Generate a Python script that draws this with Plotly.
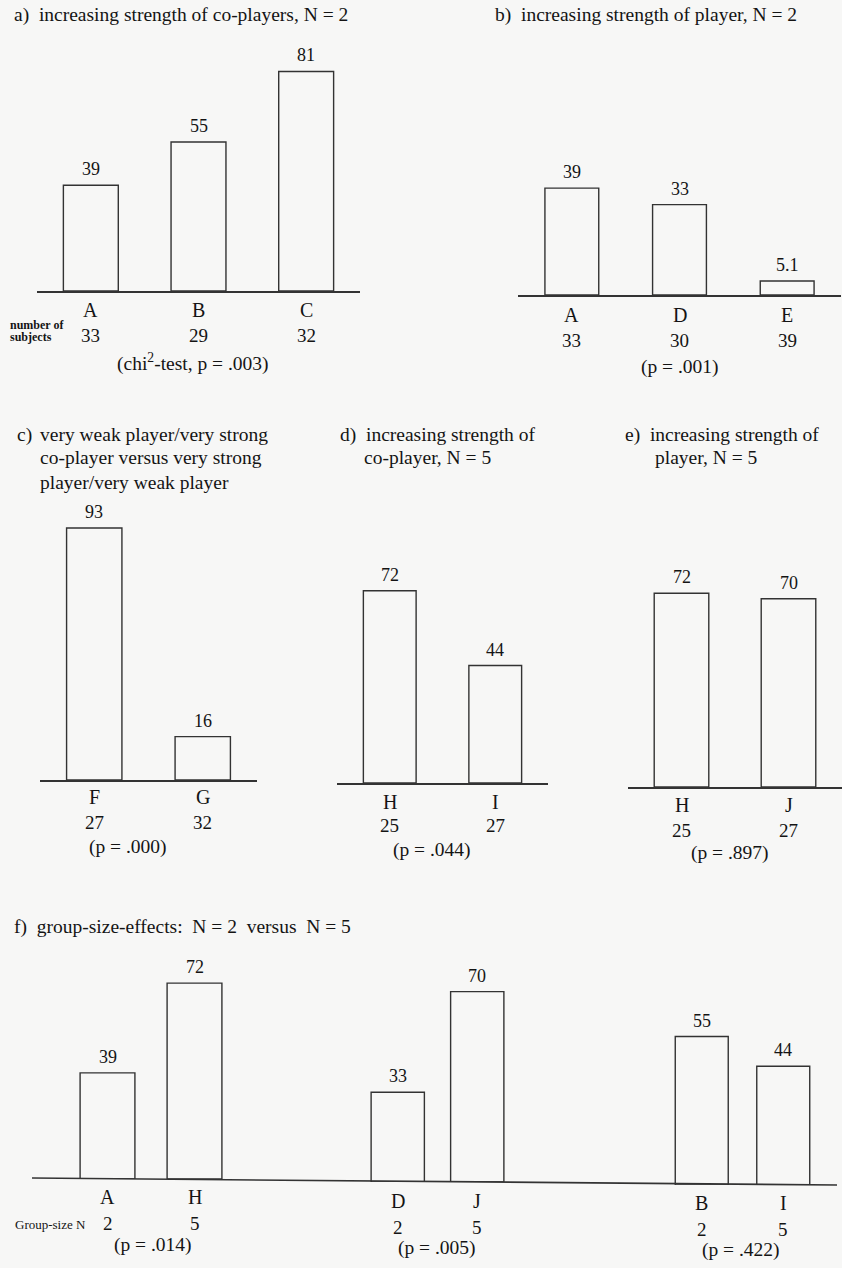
import plotly.graph_objects as go

W, H = 842, 1268

# ---------------- data ----------------
a_cats = ["A", "B", "C"]
a_vals = [39, 55, 81]
a_n = [33, 29, 32]

b_cats = ["A", "D", "E"]
b_vals = [39, 33, 5.1]
b_n = [33, 30, 39]

c_cats = ["F", "G"]
c_vals = [93, 16]
c_n = [27, 32]

d_cats = ["H", "I"]
d_vals = [72, 44]
d_n = [25, 27]

e_cats = ["H", "J"]
e_vals = [72, 70]
e_n = [25, 27]

f1_cats = ["A", "H"]
f1_vals = [39, 72]
f2_cats = ["D", "J"]
f2_vals = [33, 70]
f3_cats = ["B", "I"]
f3_vals = [55, 44]
f_groupsize = [2, 5]

p_labels = ["(chi<sup>2</sup>-test, p = .003)", "(p = .001)", "(p = .000)",
            "(p = .044)", "(p = .897)", "(p = .014)", "(p = .005)", "(p = .422)"]

# ---------------- style ----------------
FONT = "Liberation Serif, Times New Roman, serif"
TXT = "#141414"
LINE = "#333333"
BG = "#f7f7f6"


def px(x):
    return x / W


def py(y):
    return 1 - y / H


# panel geometry (pixels): axis line x0..x1, baseline, px per unit, bar width,
# y of letter row, y of count row, whether to draw axis line
panels = [
    dict(cats=a_cats, vals=a_vals, n=a_n, x0=37, x1=360, base=291, s=2.71, bw=0.51, ly=310, ny=335, line=True),
    dict(cats=b_cats, vals=b_vals, n=b_n, x0=518, x1=841, base=295, s=2.74, bw=0.50, ly=315, ny=340, line=True),
    dict(cats=c_cats, vals=c_vals, n=c_n, x0=40, x1=257, base=780, s=2.71, bw=0.51, ly=797, ny=822, line=True),
    dict(cats=d_cats, vals=d_vals, n=d_n, x0=337, x1=548, base=783, s=2.67, bw=0.50, ly=802, ny=826, line=True),
    dict(cats=e_cats, vals=e_vals, n=e_n, x0=628, x1=842, base=787, s=2.69, bw=0.51, ly=805, ny=830, line=True),
    dict(cats=f1_cats, vals=f1_vals, n=f_groupsize, x0=64, x1=238, base=1179, s=2.72, bw=0.63, ly=1197, ny=1223, line=False),
    dict(cats=f2_cats, vals=f2_vals, n=f_groupsize, x0=358, x1=517, base=1182, s=2.72, bw=0.67, ly=1201, ny=1227, line=False),
    dict(cats=f3_cats, vals=f3_vals, n=f_groupsize, x0=661, x1=824, base=1185, s=2.70, bw=0.65, ly=1203, ny=1229, line=False),
]

p_pos = [(193, 362), (680, 367), (128, 847), (432, 850), (730, 853),
         (153, 1245), (437, 1248), (741, 1250)]

fig = go.Figure()
annotations = []
layout_axes = {}


def fmt(v):
    return ("%g" % v)


for i, p in enumerate(panels):
    k = "" if i == 0 else str(i + 1)
    fig.add_trace(go.Bar(
        x=p["cats"], y=p["vals"], width=p["bw"],
        marker=dict(color="rgba(0,0,0,0)", line=dict(color=LINE, width=1.4)),
        xaxis="x" + k, yaxis="y" + k, showlegend=False, hoverinfo="skip"))
    n = len(p["cats"])
    layout_axes["xaxis" + k] = dict(
        domain=[px(p["x0"]), px(p["x1"])], range=[-0.5, n - 0.5], type="category",
        showline=p["line"], linecolor=LINE, linewidth=1.6, ticks="", showticklabels=False,
        showgrid=False, zeroline=False, anchor="y" + k, fixedrange=True)
    layout_axes["yaxis" + k] = dict(
        domain=[py(p["base"]), py(p["base"] - 100 * p["s"])], range=[0, 100],
        visible=False, anchor="x" + k, fixedrange=True)
    for c, v, cnt in zip(p["cats"], p["vals"], p["n"]):
        annotations.append(dict(x=c, y=v, xref="x" + k, yref="y" + k, text=fmt(v),
                                showarrow=False, yanchor="bottom", yshift=4,
                                font=dict(size=18, color=TXT, family=FONT)))
        annotations.append(dict(x=c, y=py(p["ly"]), xref="x" + k, yref="paper", text=c,
                                showarrow=False, yanchor="middle",
                                font=dict(size=20, color=TXT, family=FONT)))
        annotations.append(dict(x=c, y=py(p["ny"]), xref="x" + k, yref="paper", text=str(cnt),
                                showarrow=False, yanchor="middle",
                                font=dict(size=19, color=TXT, family=FONT)))

for lab, (x, y) in zip(p_labels, p_pos):
    annotations.append(dict(x=px(x), y=py(y), xref="paper", yref="paper", text=lab,
                            showarrow=False, xanchor="center", yanchor="middle",
                            font=dict(size=19.5, color=TXT, family=FONT)))

titles = [
    ("a)\u00a0 increasing strength of co-players, N = 2", 12, 15),
    ("b)\u00a0 increasing strength of player, N = 2", 493, 15),
    ("c)", 15, 435),
    ("very weak player/very strong", 38, 435),
    ("co-player versus very strong", 38, 458),
    ("player/very weak player", 38, 482),
    ("d)\u00a0 increasing strength of", 338, 435),
    ("co-player, N = 5", 362, 458),
    ("e)\u00a0 increasing strength of", 623, 435),
    ("player, N = 5", 653, 458),
    ("f)\u00a0 group-size-effects:\u00a0 N = 2\u00a0 versus\u00a0 N = 5", 12, 927),
]
for t, x, y in titles:
    annotations.append(dict(x=px(x), y=py(y), xref="paper", yref="paper", text=t,
                            showarrow=False, xanchor="left", yanchor="middle",
                            font=dict(size=19.5, color=TXT, family=FONT)))

small = [("<b>number of</b>", 9, 325, 12), ("<b>subjects</b>", 9, 337, 12),
         ("Group-size N", 14, 1224, 13)]
for t, x, y, fs in small:
    annotations.append(dict(x=px(x), y=py(y), xref="paper", yref="paper", text=t,
                            showarrow=False, xanchor="left", yanchor="middle",
                            borderpad=0,
                            font=dict(size=fs, color=TXT, family=FONT)))

shapes = [dict(type="line", xref="paper", yref="paper",
               x0=px(32), y0=py(1178), x1=px(837), y1=py(1185),
               line=dict(color=LINE, width=1.6))]

fig.update_layout(
    width=W, height=H, margin=dict(l=0, r=0, t=0, b=0),
    paper_bgcolor=BG, plot_bgcolor="rgba(0,0,0,0)",
    annotations=annotations, shapes=shapes, bargap=0,
    **layout_axes)

fig.write_html(
    "out.html",
    config={"displayModeBar": False, "staticPlot": True},
    post_script="document.body.style.margin='0';document.body.style.padding='0';"
                "document.body.style.overflow='hidden';"
                "document.body.style.background='" + BG + "';")
